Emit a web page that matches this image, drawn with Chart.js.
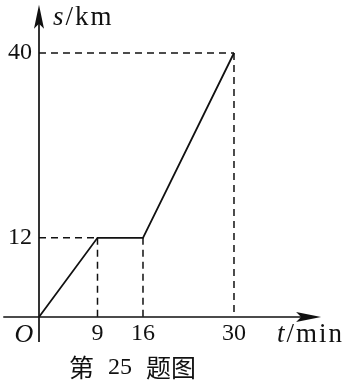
<!DOCTYPE html>
<html>
<head>
<meta charset="utf-8">
<script src="https://cdn.jsdelivr.net/npm/chart.js@4.4.1/dist/chart.umd.min.js"></script>
<style>
  html, body { margin: 0; padding: 0; background: #fff; }
  #box { width: 348px; height: 385px; }
</style>
</head>
<body>
<div id="box"><canvas id="grafico"></canvas></div>
<script>
// dados do grafico s-t
const tempo = [0, 9, 16, 30]
const distancia = [0, 12, 12, 40]
const ticksX = [9, 16, 30]
const ticksY = [12, 40]
const rotuloX = 't/min'
const rotuloY = 's/km'
const legenda = ['第', '25', '题图']

// linhas tracejadas de cada ponto ate os eixos
const tracejados = []
for (let i = 1; i < tempo.length; i++) {
  tracejados.push([{x: tempo[i], y: distancia[i]}, {x: tempo[i], y: 0}])
}
// horizontais: do eixo y ate o primeiro ponto com aquele valor
ticksY.forEach(v => {
  const i = distancia.indexOf(v)
  tracejados.push([{x: 0, y: v}, {x: tempo[i], y: v}])
})

const datasets = tracejados.map(seg => ({
  data: seg,
  borderColor: '#111',
  borderWidth: 1.5,
  borderDash: [7, 5],
  pointRadius: 0,
  fill: false
}))
datasets.push({
  data: tempo.map((t, i) => ({x: t, y: distancia[i]})),
  borderColor: '#111',
  borderWidth: 1.8,
  pointRadius: 0,
  fill: false,
  tension: 0
})

const serif = '"Liberation Serif", "DejaVu Serif", serif'

// escreve "a/b" com a em italico, alinhado a esquerda
function rotulo(c, txt, x, y) {
  const p = txt.split('/')
  c.letterSpacing = '2px'
  c.textAlign = 'left'
  c.font = 'italic 27px ' + serif
  c.fillText(p[0], x, y)
  x += c.measureText(p[0]).width
  c.font = '27px ' + serif
  c.fillText('/' + p[1], x, y)
  c.letterSpacing = '0px'
}

const eixos = {
  id: 'eixos',
  afterDatasetsDraw(chart) {
    const c = chart.ctx
    const sx = chart.scales.x, sy = chart.scales.y
    const x0 = sx.getPixelForValue(0), y0 = sy.getPixelForValue(0)
    const xFim = sx.getPixelForValue(43.4), xIni = sx.getPixelForValue(-5.5)
    const yFim = sy.getPixelForValue(47.3), yIni = sy.getPixelForValue(-3.8)
    c.save()
    c.strokeStyle = '#111'
    c.fillStyle = '#111'
    c.lineWidth = 1.7
    c.beginPath()
    c.moveTo(xIni, y0); c.lineTo(xFim - 10, y0)
    c.moveTo(x0, yIni); c.lineTo(x0, yFim + 10)
    c.stroke()
    // setas
    c.beginPath()
    c.moveTo(xFim, y0); c.lineTo(xFim - 25, y0 - 5); c.lineTo(xFim - 20, y0); c.lineTo(xFim - 25, y0 + 5)
    c.closePath(); c.fill()
    c.beginPath()
    c.moveTo(x0, yFim); c.lineTo(x0 - 5, yFim + 24); c.lineTo(x0, yFim + 19); c.lineTo(x0 + 5, yFim + 24)
    c.closePath(); c.fill()

    c.font = '24px ' + serif
    c.textBaseline = 'middle'
    c.textAlign = 'center'
    ticksX.forEach(v => c.fillText(String(v), sx.getPixelForValue(v), y0 + 17))
    c.textAlign = 'right'
    ticksY.forEach(v => c.fillText(String(v), x0 - 7, sy.getPixelForValue(v)))
    c.font = 'italic 26px ' + serif
    c.textAlign = 'center'
    c.fillText('O', x0 - 15, y0 + 18)

    // rotulos dos eixos
    c.textBaseline = 'alphabetic'
    rotulo(c, rotuloX, 277, y0 + 25)
    rotulo(c, rotuloY, x0 + 14, 25)

    // legenda embaixo
    c.textBaseline = 'middle'
    c.textAlign = 'left'
    c.font = '25px "Noto Sans CJK SC", sans-serif'
    c.fillText(legenda[0], 69, 367)
    c.fillText(legenda[2], 146, 367)
    c.font = '24px ' + serif
    c.fillText(legenda[1], 108, 368)
    c.restore()
  }
}

const ctx = document.getElementById('grafico').getContext('2d')
const grafico = new Chart(ctx, {
  type: 'line',
  data: { datasets: datasets },
  options: {
    responsive: true,
    maintainAspectRatio: false,
    animation: false,
    layout: { padding: 0 },
    scales: {
      x: { type: 'linear', min: -6, max: 47.54, display: false },
      y: { type: 'linear', min: -10.3, max: 48.03, display: false }
    },
    plugins: {
      legend: { display: false },
      tooltip: { enabled: false }
    }
  },
  plugins: [eixos]
})
</script>
</body>
</html>
